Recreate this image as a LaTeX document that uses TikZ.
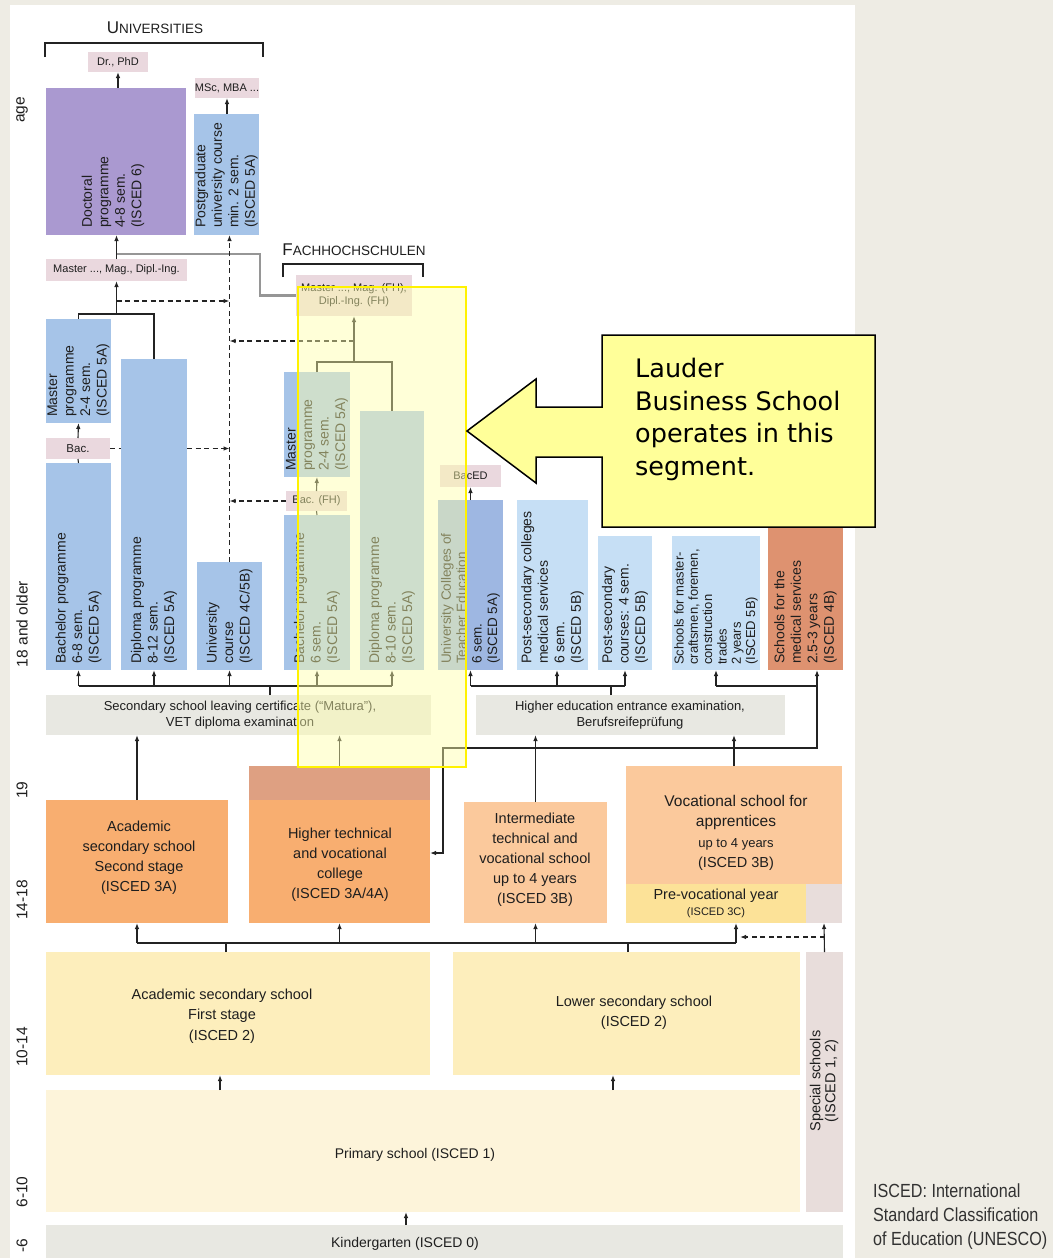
\documentclass[tikz,border=0pt]{standalone}
\usepackage{fontspec}
\setmainfont{Liberation Sans}
\newfontfamily\narrowfont[FakeStretch=0.85]{Liberation Sans}
\newfontfamily\verdfont{DejaVu Sans}
\usetikzlibrary{fit,calc,arrows.meta}
\definecolor{bgbeige}{RGB}{238,236,228}
\definecolor{cPurple}{RGB}{170,153,208}
\definecolor{cBlue}{RGB}{166,196,232}
\definecolor{cBlueD}{RGB}{158,183,226}
\definecolor{cBlueL}{RGB}{198,223,245}
\definecolor{cPink}{RGB}{234,216,222}
\definecolor{cSalmon}{RGB}{222,146,112}
\definecolor{cGray}{RGB}{232,232,226}
\definecolor{cOrange}{RGB}{248,174,112}
\definecolor{cDusty}{RGB}{222,160,130}
\definecolor{cOrangeL}{RGB}{251,201,156}
\definecolor{cPrevoc}{RGB}{252,226,152}
\definecolor{cPale}{RGB}{253,238,188}
\definecolor{cPrimary}{RGB}{253,244,218}
\definecolor{cSpecial}{RGB}{232,221,219}
\definecolor{cLine}{RGB}{35,35,35}
\definecolor{cText}{RGB}{30,30,30}
\definecolor{cGrayLine}{RGB}{150,150,150}
\definecolor{cCallout}{RGB}{255,255,153}
\definecolor{cOverlay}{RGB}{255,255,170}
\definecolor{cNote}{RGB}{50,50,50}
\newcommand\fsz[2]{\fontsize{#1}{#2}\selectfont}
\begin{document}
\begin{tikzpicture}[x=1pt,y=-1pt,
  blk/.style={inner sep=0pt, outer sep=0pt, draw=none},
  vt/.style={rotate=90, anchor=west, align=left, inner sep=0pt, text=cText, font=\fsz{14}{16.5}},
  ht/.style={align=center, inner sep=0pt, text=cText, font=\fsz{14.5}{20}},
  lbl/.style={align=center, inner sep=0pt, text=cText, font=\fsz{11}{13}},
  hdr/.style={inner sep=0pt, text=cText},
  agel/.style={rotate=90, inner sep=0pt, text=cText, font=\fsz{15.5}{16}},
  ln/.style={draw=cLine, line width=1.1pt},
  arr/.style={ln, -{Latex[length=6pt,width=4.5pt]}},
  dln/.style={ln, dash pattern=on 5pt off 3.5pt},
  darr/.style={dln, -{Latex[length=6pt,width=4.5pt]}},
]
\useasboundingbox (0,0) rectangle (1053,1258);
\fill[bgbeige] (0,0) rectangle (1053,1258);
\fill[white] (10,5) rectangle (855,1258);

% ---------- headers
\node[hdr] (uniH) at (155,28) {{\fsz{17}{17}U}{\fsz{13.5}{14}NIVERSITIES}};
\draw[ln] (45,57) -- (45,43) -- (263,43) -- (263,57);
\node[hdr] (fhH) at (354,250) {{\fsz{17}{17}F}{\fsz{13.5}{14}ACHHOCHSCHULEN}};
\draw[ln] (283,277) -- (283,264) -- (423,264) -- (423,277);

% ---------- university boxes
\node[blk, fill=cPurple, fit={(46,88) (186,235)}] (doc) {};
\node[blk, fill=cBlue, fit={(194,114) (259,235)}] (pg) {};
\node[blk, fill=cBlue, fit={(46,319) (111,423)}] (umas) {};
\node[blk, fill=cBlue, fit={(46,463) (111,670)}] (ubach) {};
\node[blk, fill=cBlue, fit={(197,562) (262,670)}] (ucourse) {};
\node[blk, fill=cPink, lbl, fit={(88,52) (148,72)}] (drphd) {};
\node[lbl] at (drphd) {Dr., PhD};
\node[blk, fill=cPink, fit={(195,78) (259,98)}] (msc) {};
\node[lbl] at (msc) {MSc, MBA ...};
\node[blk, fill=cPink, fit={(46,259) (187,281)}] (mag) {};
\node[lbl] at (mag) {Master ..., Mag., Dipl.-Ing.};
\node[blk, fill=cPink, fit={(46,438) (110,459)}] (ubac) {};
\node[lbl, font=\fsz{11.5}{13}] at (ubac) {Bac.};

% dashed Bac line behind the diploma box
\draw[dln] (ubac.east) -- (ubac.east -| 140,0);
\node[blk, fill=cBlue, fit={(121,359) (187,670)}] (udip) {};
\draw[darr] (ubac.east -| udip.east) -- (ubac.east -| ucourse.north);

% ---------- FH boxes
\node[blk, fill=cPink, fit={(296,275) (412,316)}] (fhm) {};
\node[lbl] at (fhm) {Master ..., Mag. (FH),\\Dipl.-Ing. (FH)};
\node[blk, fill=cBlue, fit={(284,372) (350,477)}] (fmas) {};
\node[blk, fill=cPink, fit={(286,491) (347,511)}] (fhbac) {};
\node[lbl] at (fhbac) {Bac. (FH)};
\node[blk, fill=cBlue, fit={(284,515) (350,670)}] (fbach) {};
\node[blk, fill=cBlue, fit={(360,411) (424,670)}] (fdip) {};

% ---------- other tertiary
\node[blk, fill=cPink, fit={(440,465) (501,487)}] (baced) {};
\node[lbl] at (baced) {BacED};
\node[blk, fill=cBlueD, fit={(438,500) (503,670)}] (ucte) {};
\node[blk, fill=cBlueL, fit={(517,500) (588,670)}] (pscol) {};
\node[blk, fill=cBlueL, fit={(598,536) (652,670)}] (pscour) {};
\node[blk, fill=cBlueL, fit={(672,536) (760,670)}] (smc) {};
\node[blk, fill=cSalmon, fit={(768,520) (843,670)}] (smed) {};

% ---------- certificates
\node[blk, fill=cGray, fit={(46,695) (431,735)}] (matura) {};
\node[blk, fill=cGray, fit={(476,695) (785,735)}] (hee) {};

% ---------- upper secondary
\node[blk, fill=cOrange, fit={(46,800) (228,923)}] (acad2) {};
\node[blk, fill=cDusty, fit={(249,766) (430,800)}] (htvcband) {};
\node[blk, fill=cOrange, fit={(249,800) (430,923)}] (htvc) {};
\node[blk, fill=cOrangeL, fit={(464,802) (607,923)}] (inter) {};
\node[blk, fill=cOrangeL, fit={(626,766) (842,884)}] (voc) {};
\node[blk, fill=cPrevoc, fit={(626,884) (806,923)}] (prevoc) {};
\node[blk, fill=cSpecial, fit={(806,884) (842,923)}] (graysq) {};

% ---------- lower levels
\node[blk, fill=cPale, fit={(46,952) (430,1075)}] (acadf) {};
\node[blk, fill=cPale, fit={(453,952) (800,1075)}] (lsec) {};
\node[blk, fill=cSpecial, fit={(806,952) (843,1212)}] (special) {};
\node[blk, fill=cPrimary, fit={(46,1090) (800,1212)}] (primary) {};
\node[blk, fill=cGray, fit={(46,1225) (843,1258)}] (kg) {};

% ---------- connectors (universities)
\draw[arr] (doc.north -| drphd.south) -- (drphd.south);
\draw[arr] (pg.north -| msc.south) -- (msc.south);
\draw[arr] (mag.north) -- (mag.north |- doc.south);
\draw[cGrayLine, line width=2.4pt] (mag.north |- 0,254) -| ($(fhm.west)+(-36,0)$) -- (fhm.west);
\draw[ln] (umas.north) -- (umas.north |- 0,314) -| (udip.north);
\draw[arr] (mag.south |- 0,314) -- (mag.south);
\draw[darr] (mag.south |- 0,301) -- (ucourse.north |- 0,301);
\draw[darr] (ucourse.north) -- (ucourse.north |- pg.south);
\draw[darr] (fhm.south |- 0,341) -- (ucourse.north |- 0,341);
\draw[ln] (ubach.north) -- (ubac.south);
\draw[arr] (ubac.north) -- (umas.south);
\draw[darr] (fhbac.west) -- (fhbac.west -| ucourse.north);

% FH
\draw[ln] (fmas.north) -- (fmas.north |- 0,362) -| (fdip.north);
\draw[arr] (fhm.south |- 0,362) -- (fhm.south);
\draw[ln] (fbach.north) -- (fhbac.south);
\draw[arr] (fhbac.north) -- (fmas.south);
\draw[arr] (ucte.north) -- (ucte.north |- baced.south);

% row into tertiary
\draw[ln] (ubach.south |- 0,686) -- (fdip.south |- 0,686);
\foreach \n in {ubach,udip,ucourse,fbach,fdip} \draw[arr] (\n.south |- 0,686) -- (\n.south);
\draw[ln] (matura.north -| 270,0) -- (270,686);
\draw[ln] (ucte.south |- 0,686) -- (pscour.south |- 0,686);
\draw[arr] (ucte.south |- 0,686) -- (ucte.south);
\draw[arr] (557,686) -- (pscol.south -| 557,0);
\draw[arr] (pscour.south |- 0,686) -- (pscour.south);
\draw[ln] (hee.north -| 611,0) -- (611,686);
\draw[ln] (smc.south |- 0,686) -- (817,686);
\draw[arr] (smc.south |- 0,686) -- (smc.south);
\draw[arr] (817,686) -- (smed.south -| 817,0);
\draw[arr] (817,686) |- (443,748) |- (htvc.east |- 0,853);

% into certificates
\draw[arr] (acad2.north) -- (acad2.north |- matura.south);
\draw[arr] (htvcband.north) -- (htvcband.north |- matura.south);
\draw[arr] (inter.north) -- (inter.north |- hee.south);
\draw[arr] (voc.north) -- (voc.north |- hee.south);

% into upper secondary
\draw[ln] (acad2.south |- 0,943) -- (736,943);
\draw[arr] (acad2.south |- 0,943) -- (acad2.south);
\draw[arr] (htvc.south |- 0,943) -- (htvc.south);
\draw[arr] (inter.south |- 0,943) -- (inter.south);
\draw[arr] (736,943) -- (prevoc.south -| 736,0);
\draw[ln] (acadf.north -| 226,0) -- (226,943);
\draw[ln] (lsec.north -| 628,0) -- (628,943);
\draw[arr] (special.north) -- (graysq.south);
\draw[darr] (special.north |- 0,937) -- (740,937);

% lower arrows
\draw[arr] (primary.north -| 220,0) -- (acadf.south -| 220,0);
\draw[arr] (primary.north -| 613,0) -- (lsec.south -| 613,0);
\draw[arr] (kg.north -| 406,0) -- (primary.south -| 406,0);

% ---------- texts: rotated
\node[vt] (docT) at ($(doc.south)+(-3,-7)$) {Doctoral\\programme\\4-8 sem.\\(ISCED 6)};
\node[vt] (pgT) at ($(pg.south)+(0,-7)$) {Postgraduate\\university course\\min. 2 sem.\\(ISCED 5A)};
\node[vt] (umasT) at ($(umas.south)+(0,-6)$) {Master\\programme\\2-4 sem.\\(ISCED 5A)};
\node[vt] (udipT) at ($(udip.south)+(0,-6)$) {Diploma programme\\8-12 sem.\\(ISCED 5A)};
\node[vt] (ubachT) at ($(ubach.south)+(0,-6)$) {Bachelor programme\\6-8 sem.\\(ISCED 5A)};
\node[vt] (ucourseT) at ($(ucourse.south)+(0,-6)$) {University\\course\\(ISCED 4C/5B)};
\node[vt] (fmasT) at ($(fmas.south)+(0,-6)$) {Master\\programme\\2-4 sem.\\(ISCED 5A)};
\node[vt] (fbachT) at ($(fbach.south)+(0,-6)$) {Bachelor programme\\6 sem.\\(ISCED 5A)};
\node[vt] (fdipT) at ($(fdip.south)+(0,-6)$) {Diploma programme\\8-10 sem.\\(ISCED 5A)};
\node[vt, font=\fsz{13.5}{15.5}] (ucteT) at ($(ucte.south)+(0,-6)$) {University Colleges of\\Teacher Education\\6 sem.\\(ISCED 5A)};
\node[vt] (pscolT) at ($(pscol.south)+(0,-6)$) {Post-secondary colleges\\medical services\\6 sem.\\(ISCED 5B)};
\node[vt] (pscourT) at ($(pscour.south)+(0,-6)$) {Post-secondary\\courses: 4 sem.\\(ISCED 5B)};
\node[vt, font=\fsz{13}{14.3}] (smcT) at ($(smc.south)+(0,-5)$) {Schools for master-\\craftsmen, foremen,\\construction\\trades\\2 years\\(ISCED 5B)};
\node[vt] (smedT) at ($(smed.south)+(0,-6)$) {Schools for the\\medical services\\2.5-3 years\\(ISCED 4B)};
\node[rotate=90, align=center, inner sep=0pt, text=cText, font=\fsz{14.5}{15}] (specialT) at (824,1081) {Special schools\\(ISCED 1, 2)};

% ---------- texts: horizontal
\node[ht, font=\fsz{13}{16}] (maturaT) at (240,715) {Secondary school leaving certificate (“Matura”),\\VET diploma examination};
\node[ht, font=\fsz{13}{16}] (heeT) at (630,715) {Higher education entrance examination,\\Berufsreifeprüfung};
\node[ht] (acad2T) at (139,858) {Academic\\secondary school\\Second stage\\(ISCED 3A)};
\node[ht] (htvcT) at (340,865) {Higher technical\\and vocational\\college\\(ISCED 3A/4A)};
\node[ht] (interT) at (535,860) {Intermediate\\technical and\\vocational school\\up to 4 years\\(ISCED 3B)};
\node[ht, font=\fsz{15.5}{20.5}] (vocT) at (736,833) {Vocational school for\\apprentices\\{\fsz{13}{20.5}up to 4 years}\\{\fsz{14.5}{20.5}(ISCED 3B)}};
\node[ht, font=\fsz{14.5}{16}] (prevocT) at (716,903) {Pre-vocational year\\{\fsz{11}{16}(ISCED 3C)}};
\node[ht, font=\fsz{14.5}{20.5}] (acadfT) at (222,1016) {Academic secondary school\\First stage\\(ISCED 2)};
\node[ht] (lsecT) at (634,1013) {Lower secondary school\\(ISCED 2)};
\node[ht, font=\fsz{14}{16}] (primaryT) at (415,1155) {Primary school (ISCED 1)};
\node[ht, font=\fsz{14}{16}] (kgT) at (405,1244) {Kindergarten (ISCED 0)};

% ---------- age labels
\node[agel] (ageA) at (22,110) {age};
\node[agel] (ageB) at (22,624) {18 and older};
\node[agel] (ageC) at (22,790) {19};
\node[agel] (ageD) at (22,900) {14-18};
\node[agel] (ageE) at (22,1047) {10-14};
\node[agel] (ageF) at (22,1192) {6-10};
\node[agel] (ageG) at (22,1246) {-6};

% ---------- note
\node[anchor=north west, align=left, inner sep=0pt, text=cNote, font=\narrowfont\fsz{19}{24}] (note) at (873,1184) {ISCED: International\\Standard Classification\\of Education (UNESCO)};

% ---------- highlight overlay and callout
\node[fit={(298,287) (466,767)}, inner sep=0pt, fill=cOverlay, fill opacity=0.45, draw=yellow, line width=2pt] (lbsreg) {};
\draw[fill=cCallout, line width=1.5pt, line join=miter] (602,335) -- (875,335) -- (875,527) -- (602,527) -- (602,457) -- (536,457) -- (536,483) -- (467,431) -- (536,379) -- (536,407) -- (602,407) -- cycle;
\node[anchor=north west, align=left, inner sep=0pt, font=\verdfont\fsz{25.5}{32.5}] (callT) at (635,358) {Lauder\\Business School\\operates in this\\segment.};
\end{tikzpicture}
\end{document}
